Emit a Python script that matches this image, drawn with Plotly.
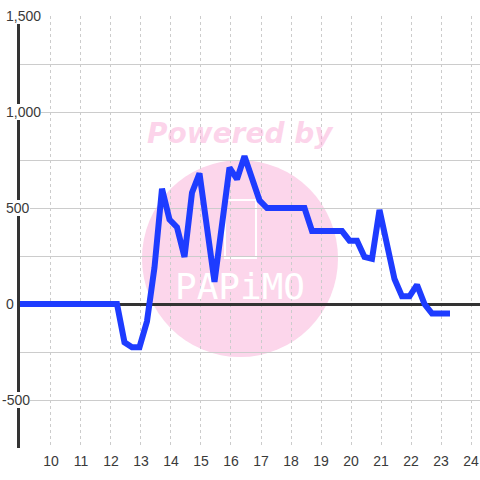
import plotly.graph_objects as go

# ---- data ----
hours = [8.95, 12.2, 12.45, 12.7, 12.95, 13.2, 13.45, 13.7, 13.95, 14.2, 14.45, 14.7,
         14.95, 15.45, 15.95, 16.2, 16.45, 16.7, 16.95, 17.2, 18.45, 18.7, 19.7, 19.95,
         20.2, 20.45, 20.7, 20.95, 21.2, 21.45, 21.7, 21.95, 22.2, 22.45, 22.7, 23.3]
values = [0, 0, -200, -225, -225, -90, 190, 600, 440, 400, 245, 580,
          680, 115, 710, 650, 770, 660, 540, 500, 500, 380, 380, 330,
          330, 245, 235, 490, 320, 130, 40, 40, 100, 0, -50, -50]

x_ticks = [10, 11, 12, 13, 14, 15, 16, 17, 18, 19, 20, 21, 22, 23, 24]
x_tick_labels = [str(v) for v in x_ticks]
y_ticks = [-500, 0, 500, 1000, 1500]
y_tick_labels = ["-500", "0", "500", "1,000", "1,500"]

FONT = "Liberation Sans, Arial, sans-serif"
TICK_COLOR = "#3a3a3a"
GRID = "#cccccc"
LINE_BLUE = "#1e3cff"
PINK = "#fcd6eb"

fig = go.Figure()

# watermark logo text (drawn under the data line)
fig.add_trace(go.Scatter(
    x=[16.3], y=[75], mode="text", text=["PAPiMO"],
    textfont=dict(family="DejaVu Sans Mono", size=36, color="white"),
    hoverinfo="skip", showlegend=False))

fig.add_trace(go.Scatter(
    x=hours, y=values, mode="lines",
    line=dict(color=LINE_BLUE, width=6),
    showlegend=False))

shapes = [
    dict(type="circle", xref="paper", yref="paper",
         x0=0.2652, x1=0.6913, y0=0.2106, y1=0.6667,
         fillcolor=PINK, line=dict(width=0), layer="below"),
    dict(type="rect", xref="paper", yref="paper",
         x0=0.4457, x1=0.513, y0=0.4398, y1=0.574,
         fillcolor="rgba(0,0,0,0)", line=dict(color="white", width=2), layer="below"),
]

annotations = [
    dict(text="Powered by", xref="paper", yref="paper", x=0.4804, y=0.7269,
         xanchor="center", yanchor="middle", showarrow=False,
         font=dict(family="DejaVu Sans", size=28, color="rgba(249,170,214,0.5)",
                   weight="bold", style="italic")),
]
for v, t in zip(y_ticks, y_tick_labels):
    annotations.append(dict(
        text=t, xref="paper", yref="y", x=0, y=v,
        xanchor="left", yanchor="middle", showarrow=False,
        xshift=-14 if v >= 0 else -18,
        bgcolor="white", borderpad=0, borderwidth=0,
        font=dict(family=FONT, size=14, color=TICK_COLOR)))

fig.update_layout(
    width=480, height=480,
    margin=dict(l=20, r=0, t=16, b=32),
    plot_bgcolor="white", paper_bgcolor="white",
    showlegend=False,
    shapes=shapes,
    annotations=annotations,
    xaxis=dict(
        range=[8.967, 24.3],
        tickmode="array", tickvals=x_ticks, ticktext=x_tick_labels,
        showgrid=True, gridcolor=GRID, gridwidth=1, griddash="dot",
        zeroline=False, showline=False, ticks="",
        ticklabelstandoff=3,
        tickfont=dict(family=FONT, size=14, color=TICK_COLOR),
    ),
    yaxis=dict(
        range=[-750, 1500],
        tick0=0, dtick=500,
        showticklabels=False, ticks="",
        showgrid=True, gridcolor=GRID, gridwidth=1,
        minor=dict(dtick=250, showgrid=True, gridcolor=GRID, gridwidth=1),
        zeroline=True, zerolinecolor="#333333", zerolinewidth=3,
        showline=True, linecolor="#333333", linewidth=3,
    ),
)

fig.write_html("out.html",
               config={"displayModeBar": False},
               post_script="document.body.style.margin='0';document.body.style.padding='0';")
